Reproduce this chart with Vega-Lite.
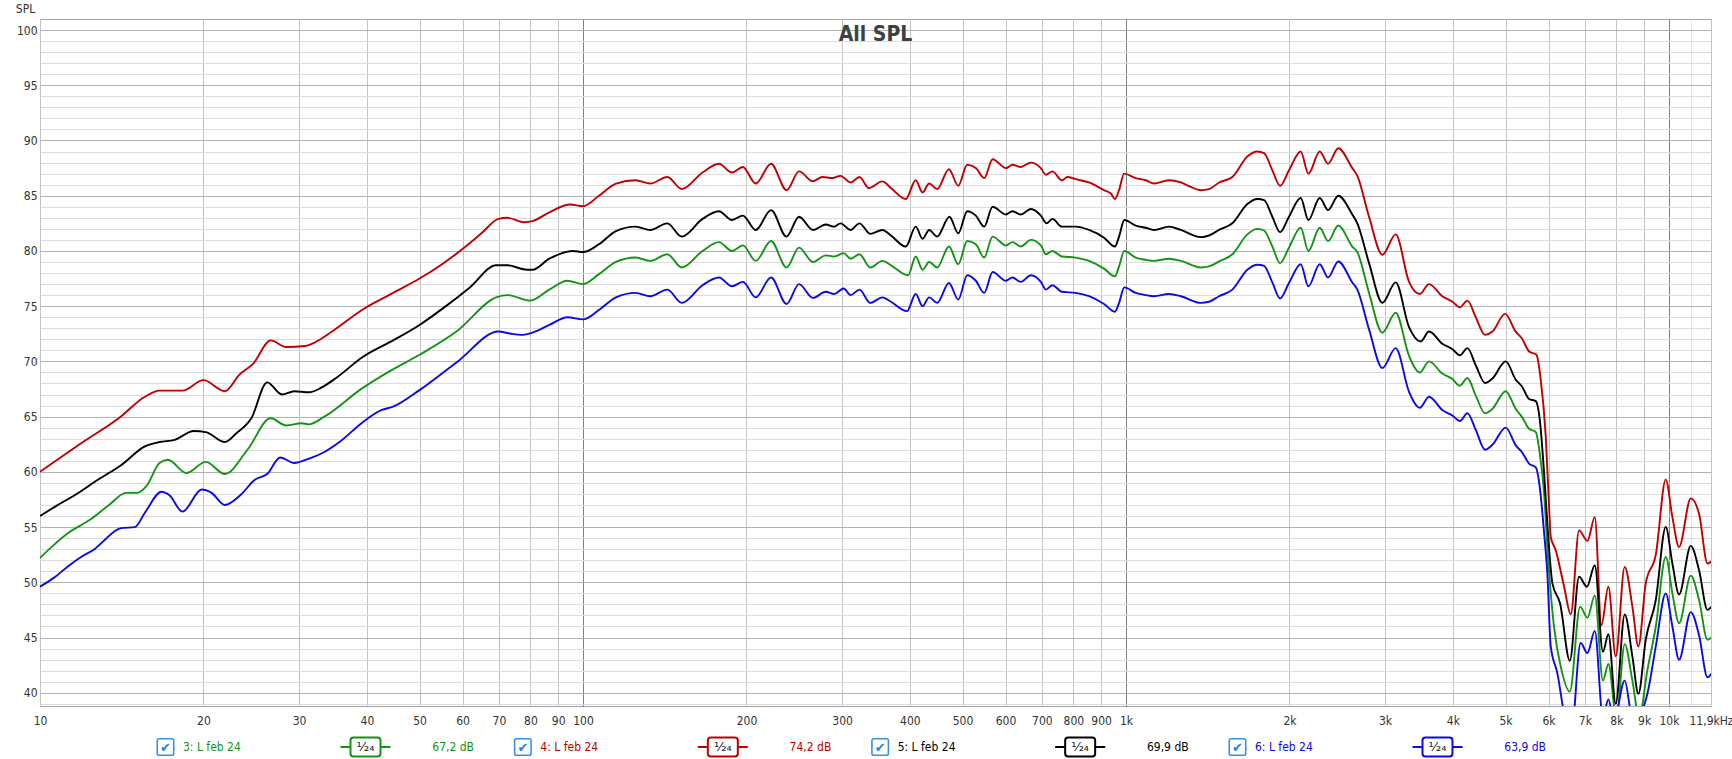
{
  "$schema": "https://vega.github.io/schema/vega-lite/v6.json",
  "background": "white",
  "padding": {"left": 14, "top": 1, "right": 4, "bottom": 2},
  "spacing": 6,
  "config": {
    "view": {"stroke": "#a4a4a4", "strokeWidth": 1},
    "font": "Liberation Sans Narrow, DejaVu Sans Condensed, sans-serif"
  },
  "datasets": {
    "curves": [
      {"series":"3: L feb 24","freq":10,"spl":52.2},{"series":"3: L feb 24","freq":10.4,"spl":53.0},{"series":"3: L feb 24","freq":11.3,"spl":54.5},{"series":"3: L feb 24","freq":12.4,"spl":55.7},{"series":"3: L feb 24","freq":13.4,"spl":57.0},{"series":"3: L feb 24","freq":14.4,"spl":58.1},{"series":"3: L feb 24","freq":15.1,"spl":58.1},{"series":"3: L feb 24","freq":15.7,"spl":58.7},{"series":"3: L feb 24","freq":16.6,"spl":60.8},{"series":"3: L feb 24","freq":17.2,"spl":61.1},{"series":"3: L feb 24","freq":18.6,"spl":59.9},{"series":"3: L feb 24","freq":20.2,"spl":60.9},{"series":"3: L feb 24","freq":21.9,"spl":59.8},{"series":"3: L feb 24","freq":24.1,"spl":62.0},{"series":"3: L feb 24","freq":26.6,"spl":64.85},{"series":"3: L feb 24","freq":28.4,"spl":64.2},{"series":"3: L feb 24","freq":30.3,"spl":64.4},{"series":"3: L feb 24","freq":31.3,"spl":64.3},{"series":"3: L feb 24","freq":33.4,"spl":65.0},{"series":"3: L feb 24","freq":39.3,"spl":67.6},{"series":"3: L feb 24","freq":44.0,"spl":69.1},{"series":"3: L feb 24","freq":50,"spl":70.6},{"series":"3: L feb 24","freq":58.8,"spl":72.8},{"series":"3: L feb 24","freq":69.2,"spl":75.8},{"series":"3: L feb 24","freq":72.6,"spl":76.0},{"series":"3: L feb 24","freq":80,"spl":75.5},{"series":"3: L feb 24","freq":86.7,"spl":76.5},{"series":"3: L feb 24","freq":93.6,"spl":77.3},{"series":"3: L feb 24","freq":100,"spl":77.0},{"series":"3: L feb 24","freq":107,"spl":77.9},{"series":"3: L feb 24","freq":115,"spl":79.0},{"series":"3: L feb 24","freq":125,"spl":79.4},{"series":"3: L feb 24","freq":133,"spl":79.1},{"series":"3: L feb 24","freq":143,"spl":79.7},{"series":"3: L feb 24","freq":152,"spl":78.5},{"series":"3: L feb 24","freq":166,"spl":80.0},{"series":"3: L feb 24","freq":178,"spl":80.8},{"series":"3: L feb 24","freq":188,"spl":80.0},{"series":"3: L feb 24","freq":197,"spl":80.5},{"series":"3: L feb 24","freq":208,"spl":79.1},{"series":"3: L feb 24","freq":222,"spl":80.9},{"series":"3: L feb 24","freq":237,"spl":78.5},{"series":"3: L feb 24","freq":250,"spl":80.3},{"series":"3: L feb 24","freq":265,"spl":79.0},{"series":"3: L feb 24","freq":280,"spl":79.6},{"series":"3: L feb 24","freq":290,"spl":79.5},{"series":"3: L feb 24","freq":302,"spl":79.8},{"series":"3: L feb 24","freq":311,"spl":79.3},{"series":"3: L feb 24","freq":323,"spl":79.7},{"series":"3: L feb 24","freq":338,"spl":78.5},{"series":"3: L feb 24","freq":356,"spl":79.1},{"series":"3: L feb 24","freq":369,"spl":78.7},{"series":"3: L feb 24","freq":397,"spl":77.8},{"series":"3: L feb 24","freq":410,"spl":79.5},{"series":"3: L feb 24","freq":422,"spl":78.3},{"series":"3: L feb 24","freq":434,"spl":79.0},{"series":"3: L feb 24","freq":449,"spl":78.5},{"series":"3: L feb 24","freq":472,"spl":80.4},{"series":"3: L feb 24","freq":491,"spl":78.8},{"series":"3: L feb 24","freq":510,"spl":80.9},{"series":"3: L feb 24","freq":529,"spl":80.6},{"series":"3: L feb 24","freq":548,"spl":79.4},{"series":"3: L feb 24","freq":568,"spl":81.3},{"series":"3: L feb 24","freq":601,"spl":80.5},{"series":"3: L feb 24","freq":618,"spl":80.8},{"series":"3: L feb 24","freq":640,"spl":80.4},{"series":"3: L feb 24","freq":668,"spl":81.0},{"series":"3: L feb 24","freq":697,"spl":80.5},{"series":"3: L feb 24","freq":712,"spl":79.7},{"series":"3: L feb 24","freq":732,"spl":80.0},{"series":"3: L feb 24","freq":762,"spl":79.5},{"series":"3: L feb 24","freq":808,"spl":79.4},{"series":"3: L feb 24","freq":855,"spl":79.1},{"series":"3: L feb 24","freq":911,"spl":78.4},{"series":"3: L feb 24","freq":954,"spl":77.7},{"series":"3: L feb 24","freq":971,"spl":78.6},{"series":"3: L feb 24","freq":993,"spl":80.0},{"series":"3: L feb 24","freq":1042,"spl":79.4},{"series":"3: L feb 24","freq":1087,"spl":79.2},{"series":"3: L feb 24","freq":1126,"spl":79.1},{"series":"3: L feb 24","freq":1200,"spl":79.3},{"series":"3: L feb 24","freq":1262,"spl":79.1},{"series":"3: L feb 24","freq":1373,"spl":78.5},{"series":"3: L feb 24","freq":1422,"spl":78.6},{"series":"3: L feb 24","freq":1484,"spl":79.05},{"series":"3: L feb 24","freq":1570,"spl":79.7},{"series":"3: L feb 24","freq":1673,"spl":81.5},{"series":"3: L feb 24","freq":1746,"spl":82.0},{"series":"3: L feb 24","freq":1796,"spl":81.85},{"series":"3: L feb 24","freq":1860,"spl":80.4},{"series":"3: L feb 24","freq":1922,"spl":78.9},{"series":"3: L feb 24","freq":1996,"spl":80.3},{"series":"3: L feb 24","freq":2098,"spl":82.1},{"series":"3: L feb 24","freq":2167,"spl":80.0},{"series":"3: L feb 24","freq":2274,"spl":82.1},{"series":"3: L feb 24","freq":2356,"spl":80.9},{"series":"3: L feb 24","freq":2460,"spl":82.3},{"series":"3: L feb 24","freq":2611,"spl":80.4},{"series":"3: L feb 24","freq":2667,"spl":79.9},{"series":"3: L feb 24","freq":2803,"spl":76.2},{"series":"3: L feb 24","freq":2966,"spl":72.6},{"series":"3: L feb 24","freq":3138,"spl":74.4},{"series":"3: L feb 24","freq":3321,"spl":70.5},{"series":"3: L feb 24","freq":3476,"spl":69.0},{"series":"3: L feb 24","freq":3615,"spl":70.0},{"series":"3: L feb 24","freq":3824,"spl":68.9},{"series":"3: L feb 24","freq":3992,"spl":68.4},{"series":"3: L feb 24","freq":4119,"spl":67.8},{"series":"3: L feb 24","freq":4254,"spl":68.5},{"series":"3: L feb 24","freq":4407,"spl":66.9},{"series":"3: L feb 24","freq":4584,"spl":65.3},{"series":"3: L feb 24","freq":4729,"spl":65.7},{"series":"3: L feb 24","freq":5004,"spl":67.3},{"series":"3: L feb 24","freq":5221,"spl":65.7},{"series":"3: L feb 24","freq":5357,"spl":65.0},{"series":"3: L feb 24","freq":5525,"spl":63.9},{"series":"3: L feb 24","freq":5684,"spl":63.6},{"series":"3: L feb 24","freq":5782,"spl":61.65},{"series":"3: L feb 24","freq":5890,"spl":58.0},{"series":"3: L feb 24","freq":5970,"spl":53.2},{"series":"3: L feb 24","freq":6140,"spl":46.0},{"series":"3: L feb 24","freq":6340,"spl":42.05},{"series":"3: L feb 24","freq":6567,"spl":40.1},{"series":"3: L feb 24","freq":6860,"spl":47.8},{"series":"3: L feb 24","freq":7075,"spl":46.8},{"series":"3: L feb 24","freq":7301,"spl":48.8},{"series":"3: L feb 24","freq":7556,"spl":41.1},{"series":"3: L feb 24","freq":7734,"spl":42.6},{"series":"3: L feb 24","freq":8000,"spl":37.8},{"series":"3: L feb 24","freq":8288,"spl":44.4},{"series":"3: L feb 24","freq":8562,"spl":41.1},{"series":"3: L feb 24","freq":8810,"spl":37.8},{"series":"3: L feb 24","freq":9125,"spl":42.05},{"series":"3: L feb 24","freq":9456,"spl":46.0},{"series":"3: L feb 24","freq":9863,"spl":52.3},{"series":"3: L feb 24","freq":10145,"spl":49.0},{"series":"3: L feb 24","freq":10437,"spl":46.3},{"series":"3: L feb 24","freq":10968,"spl":50.6},{"series":"3: L feb 24","freq":11360,"spl":48.4},{"series":"3: L feb 24","freq":11773,"spl":44.8},{"series":"3: L feb 24","freq":11975,"spl":45.0},

      {"series":"4: L feb 24","freq":10,"spl":60.0},{"series":"4: L feb 24","freq":12,"spl":62.7},{"series":"4: L feb 24","freq":14,"spl":64.9},{"series":"4: L feb 24","freq":15.6,"spl":66.8},{"series":"4: L feb 24","freq":16.6,"spl":67.35},{"series":"4: L feb 24","freq":18.3,"spl":67.35},{"series":"4: L feb 24","freq":20.0,"spl":68.3},{"series":"4: L feb 24","freq":21.9,"spl":67.3},{"series":"4: L feb 24","freq":23.3,"spl":68.8},{"series":"4: L feb 24","freq":24.7,"spl":69.8},{"series":"4: L feb 24","freq":26.6,"spl":71.9},{"series":"4: L feb 24","freq":28.4,"spl":71.3},{"series":"4: L feb 24","freq":30.8,"spl":71.4},{"series":"4: L feb 24","freq":32.3,"spl":71.8},{"series":"4: L feb 24","freq":34.5,"spl":72.7},{"series":"4: L feb 24","freq":39.3,"spl":74.7},{"series":"4: L feb 24","freq":44.7,"spl":76.2},{"series":"4: L feb 24","freq":50,"spl":77.5},{"series":"4: L feb 24","freq":55,"spl":78.8},{"series":"4: L feb 24","freq":60.8,"spl":80.4},{"series":"4: L feb 24","freq":65,"spl":81.6},{"series":"4: L feb 24","freq":69.9,"spl":82.9},{"series":"4: L feb 24","freq":72.6,"spl":83.0},{"series":"4: L feb 24","freq":78.1,"spl":82.6},{"series":"4: L feb 24","freq":80.7,"spl":82.7},{"series":"4: L feb 24","freq":86.7,"spl":83.5},{"series":"4: L feb 24","freq":94.8,"spl":84.2},{"series":"4: L feb 24","freq":100,"spl":84.05},{"series":"4: L feb 24","freq":107,"spl":85.0},{"series":"4: L feb 24","freq":115,"spl":86.1},{"series":"4: L feb 24","freq":125,"spl":86.4},{"series":"4: L feb 24","freq":133,"spl":86.1},{"series":"4: L feb 24","freq":143,"spl":86.7},{"series":"4: L feb 24","freq":152,"spl":85.6},{"series":"4: L feb 24","freq":166,"spl":87.1},{"series":"4: L feb 24","freq":178,"spl":87.9},{"series":"4: L feb 24","freq":188,"spl":87.1},{"series":"4: L feb 24","freq":197,"spl":87.6},{"series":"4: L feb 24","freq":208,"spl":86.1},{"series":"4: L feb 24","freq":222,"spl":87.9},{"series":"4: L feb 24","freq":237,"spl":85.5},{"series":"4: L feb 24","freq":250,"spl":87.2},{"series":"4: L feb 24","freq":265,"spl":86.3},{"series":"4: L feb 24","freq":276,"spl":86.7},{"series":"4: L feb 24","freq":288,"spl":86.6},{"series":"4: L feb 24","freq":298,"spl":86.8},{"series":"4: L feb 24","freq":311,"spl":86.2},{"series":"4: L feb 24","freq":323,"spl":86.7},{"series":"4: L feb 24","freq":336,"spl":85.7},{"series":"4: L feb 24","freq":356,"spl":86.3},{"series":"4: L feb 24","freq":369,"spl":85.7},{"series":"4: L feb 24","freq":393,"spl":84.7},{"series":"4: L feb 24","freq":410,"spl":86.4},{"series":"4: L feb 24","freq":422,"spl":85.3},{"series":"4: L feb 24","freq":434,"spl":86.1},{"series":"4: L feb 24","freq":449,"spl":85.6},{"series":"4: L feb 24","freq":472,"spl":87.4},{"series":"4: L feb 24","freq":491,"spl":85.9},{"series":"4: L feb 24","freq":510,"spl":87.8},{"series":"4: L feb 24","freq":529,"spl":87.5},{"series":"4: L feb 24","freq":548,"spl":86.6},{"series":"4: L feb 24","freq":568,"spl":88.3},{"series":"4: L feb 24","freq":601,"spl":87.5},{"series":"4: L feb 24","freq":618,"spl":87.8},{"series":"4: L feb 24","freq":640,"spl":87.6},{"series":"4: L feb 24","freq":668,"spl":88.0},{"series":"4: L feb 24","freq":697,"spl":87.5},{"series":"4: L feb 24","freq":712,"spl":86.9},{"series":"4: L feb 24","freq":732,"spl":87.2},{"series":"4: L feb 24","freq":762,"spl":86.4},{"series":"4: L feb 24","freq":780,"spl":86.7},{"series":"4: L feb 24","freq":808,"spl":86.5},{"series":"4: L feb 24","freq":855,"spl":86.2},{"series":"4: L feb 24","freq":911,"spl":85.5},{"series":"4: L feb 24","freq":938,"spl":85.2},{"series":"4: L feb 24","freq":954,"spl":84.7},{"series":"4: L feb 24","freq":971,"spl":85.5},{"series":"4: L feb 24","freq":992,"spl":87.0},{"series":"4: L feb 24","freq":1042,"spl":86.6},{"series":"4: L feb 24","freq":1087,"spl":86.4},{"series":"4: L feb 24","freq":1126,"spl":86.1},{"series":"4: L feb 24","freq":1200,"spl":86.4},{"series":"4: L feb 24","freq":1262,"spl":86.2},{"series":"4: L feb 24","freq":1316,"spl":85.8},{"series":"4: L feb 24","freq":1373,"spl":85.5},{"series":"4: L feb 24","freq":1422,"spl":85.6},{"series":"4: L feb 24","freq":1484,"spl":86.2},{"series":"4: L feb 24","freq":1570,"spl":86.7},{"series":"4: L feb 24","freq":1673,"spl":88.55},{"series":"4: L feb 24","freq":1746,"spl":89.0},{"series":"4: L feb 24","freq":1796,"spl":88.85},{"series":"4: L feb 24","freq":1860,"spl":87.3},{"series":"4: L feb 24","freq":1922,"spl":85.9},{"series":"4: L feb 24","freq":1996,"spl":87.3},{"series":"4: L feb 24","freq":2098,"spl":89.0},{"series":"4: L feb 24","freq":2167,"spl":87.0},{"series":"4: L feb 24","freq":2274,"spl":89.0},{"series":"4: L feb 24","freq":2356,"spl":87.9},{"series":"4: L feb 24","freq":2460,"spl":89.3},{"series":"4: L feb 24","freq":2611,"spl":87.5},{"series":"4: L feb 24","freq":2667,"spl":86.8},{"series":"4: L feb 24","freq":2803,"spl":83.1},{"series":"4: L feb 24","freq":2966,"spl":79.65},{"series":"4: L feb 24","freq":3138,"spl":81.5},{"series":"4: L feb 24","freq":3321,"spl":77.2},{"series":"4: L feb 24","freq":3476,"spl":76.1},{"series":"4: L feb 24","freq":3615,"spl":77.0},{"series":"4: L feb 24","freq":3824,"spl":75.9},{"series":"4: L feb 24","freq":3992,"spl":75.4},{"series":"4: L feb 24","freq":4119,"spl":74.9},{"series":"4: L feb 24","freq":4254,"spl":75.5},{"series":"4: L feb 24","freq":4407,"spl":74.0},{"series":"4: L feb 24","freq":4584,"spl":72.4},{"series":"4: L feb 24","freq":4729,"spl":72.7},{"series":"4: L feb 24","freq":4991,"spl":74.3},{"series":"4: L feb 24","freq":5221,"spl":72.7},{"series":"4: L feb 24","freq":5357,"spl":72.1},{"series":"4: L feb 24","freq":5525,"spl":70.9},{"series":"4: L feb 24","freq":5700,"spl":70.6},{"series":"4: L feb 24","freq":5806,"spl":68.3},{"series":"4: L feb 24","freq":5930,"spl":63.2},{"series":"4: L feb 24","freq":6015,"spl":56.8},{"series":"4: L feb 24","freq":6057,"spl":54.1},{"series":"4: L feb 24","freq":6186,"spl":52.9},{"series":"4: L feb 24","freq":6410,"spl":49.6},{"series":"4: L feb 24","freq":6594,"spl":47.1},{"series":"4: L feb 24","freq":6830,"spl":54.7},{"series":"4: L feb 24","freq":7075,"spl":53.75},{"series":"4: L feb 24","freq":7301,"spl":55.9},{"series":"4: L feb 24","freq":7508,"spl":46.1},{"series":"4: L feb 24","freq":7734,"spl":49.6},{"series":"4: L feb 24","freq":7978,"spl":43.3},{"series":"4: L feb 24","freq":8288,"spl":51.4},{"series":"4: L feb 24","freq":8562,"spl":47.8},{"series":"4: L feb 24","freq":8783,"spl":44.2},{"series":"4: L feb 24","freq":9061,"spl":49.9},{"series":"4: L feb 24","freq":9456,"spl":52.5},{"series":"4: L feb 24","freq":9863,"spl":59.3},{"series":"4: L feb 24","freq":10145,"spl":55.9},{"series":"4: L feb 24","freq":10437,"spl":53.2},{"series":"4: L feb 24","freq":10968,"spl":57.6},{"series":"4: L feb 24","freq":11360,"spl":56.2},{"series":"4: L feb 24","freq":11773,"spl":51.7},{"series":"4: L feb 24","freq":11975,"spl":51.9},

      {"series":"5: L feb 24","freq":10,"spl":56.0},{"series":"5: L feb 24","freq":10.7,"spl":56.9},{"series":"5: L feb 24","freq":11.6,"spl":57.9},{"series":"5: L feb 24","freq":12.8,"spl":59.3},{"series":"5: L feb 24","freq":14.1,"spl":60.6},{"series":"5: L feb 24","freq":15.6,"spl":62.3},{"series":"5: L feb 24","freq":16.6,"spl":62.7},{"series":"5: L feb 24","freq":17.7,"spl":62.9},{"series":"5: L feb 24","freq":19.2,"spl":63.7},{"series":"5: L feb 24","freq":20.2,"spl":63.6},{"series":"5: L feb 24","freq":21.9,"spl":62.7},{"series":"5: L feb 24","freq":23.0,"spl":63.5},{"series":"5: L feb 24","freq":24.5,"spl":64.85},{"series":"5: L feb 24","freq":26.2,"spl":68.1},{"series":"5: L feb 24","freq":27.9,"spl":67.0},{"series":"5: L feb 24","freq":29.4,"spl":67.3},{"series":"5: L feb 24","freq":31.3,"spl":67.2},{"series":"5: L feb 24","freq":32.9,"spl":67.6},{"series":"5: L feb 24","freq":35.1,"spl":68.5},{"series":"5: L feb 24","freq":39.3,"spl":70.4},{"series":"5: L feb 24","freq":44.7,"spl":71.9},{"series":"5: L feb 24","freq":50.0,"spl":73.3},{"series":"5: L feb 24","freq":55.2,"spl":74.8},{"series":"5: L feb 24","freq":61.9,"spl":76.7},{"series":"5: L feb 24","freq":69.2,"spl":78.7},{"series":"5: L feb 24","freq":72.6,"spl":78.7},{"series":"5: L feb 24","freq":78.8,"spl":78.3},{"series":"5: L feb 24","freq":80.7,"spl":78.3},{"series":"5: L feb 24","freq":86.7,"spl":79.3},{"series":"5: L feb 24","freq":95.8,"spl":80.0},{"series":"5: L feb 24","freq":100,"spl":79.9},{"series":"5: L feb 24","freq":107,"spl":80.6},{"series":"5: L feb 24","freq":115,"spl":81.8},{"series":"5: L feb 24","freq":125,"spl":82.2},{"series":"5: L feb 24","freq":133,"spl":81.9},{"series":"5: L feb 24","freq":143,"spl":82.5},{"series":"5: L feb 24","freq":152,"spl":81.3},{"series":"5: L feb 24","freq":166,"spl":82.9},{"series":"5: L feb 24","freq":178,"spl":83.6},{"series":"5: L feb 24","freq":188,"spl":82.8},{"series":"5: L feb 24","freq":197,"spl":83.2},{"series":"5: L feb 24","freq":208,"spl":81.9},{"series":"5: L feb 24","freq":222,"spl":83.7},{"series":"5: L feb 24","freq":237,"spl":81.3},{"series":"5: L feb 24","freq":250,"spl":83.1},{"series":"5: L feb 24","freq":265,"spl":81.9},{"series":"5: L feb 24","freq":280,"spl":82.4},{"series":"5: L feb 24","freq":290,"spl":82.2},{"series":"5: L feb 24","freq":298,"spl":82.5},{"series":"5: L feb 24","freq":311,"spl":81.9},{"series":"5: L feb 24","freq":323,"spl":82.5},{"series":"5: L feb 24","freq":338,"spl":81.55},{"series":"5: L feb 24","freq":356,"spl":81.9},{"series":"5: L feb 24","freq":369,"spl":81.4},{"series":"5: L feb 24","freq":393,"spl":80.4},{"series":"5: L feb 24","freq":410,"spl":82.2},{"series":"5: L feb 24","freq":422,"spl":81.1},{"series":"5: L feb 24","freq":434,"spl":81.9},{"series":"5: L feb 24","freq":449,"spl":81.3},{"series":"5: L feb 24","freq":473,"spl":83.1},{"series":"5: L feb 24","freq":491,"spl":81.6},{"series":"5: L feb 24","freq":510,"spl":83.6},{"series":"5: L feb 24","freq":529,"spl":83.2},{"series":"5: L feb 24","freq":548,"spl":82.2},{"series":"5: L feb 24","freq":568,"spl":84.0},{"series":"5: L feb 24","freq":601,"spl":83.3},{"series":"5: L feb 24","freq":618,"spl":83.6},{"series":"5: L feb 24","freq":640,"spl":83.3},{"series":"5: L feb 24","freq":668,"spl":83.8},{"series":"5: L feb 24","freq":697,"spl":83.2},{"series":"5: L feb 24","freq":714,"spl":82.5},{"series":"5: L feb 24","freq":732,"spl":82.9},{"series":"5: L feb 24","freq":762,"spl":82.2},{"series":"5: L feb 24","freq":808,"spl":82.2},{"series":"5: L feb 24","freq":855,"spl":81.9},{"series":"5: L feb 24","freq":911,"spl":81.2},{"series":"5: L feb 24","freq":954,"spl":80.4},{"series":"5: L feb 24","freq":971,"spl":81.3},{"series":"5: L feb 24","freq":993,"spl":82.8},{"series":"5: L feb 24","freq":1042,"spl":82.3},{"series":"5: L feb 24","freq":1087,"spl":82.1},{"series":"5: L feb 24","freq":1126,"spl":81.9},{"series":"5: L feb 24","freq":1200,"spl":82.2},{"series":"5: L feb 24","freq":1262,"spl":81.9},{"series":"5: L feb 24","freq":1373,"spl":81.25},{"series":"5: L feb 24","freq":1422,"spl":81.4},{"series":"5: L feb 24","freq":1484,"spl":81.9},{"series":"5: L feb 24","freq":1570,"spl":82.5},{"series":"5: L feb 24","freq":1673,"spl":84.25},{"series":"5: L feb 24","freq":1746,"spl":84.7},{"series":"5: L feb 24","freq":1796,"spl":84.6},{"series":"5: L feb 24","freq":1860,"spl":83.1},{"series":"5: L feb 24","freq":1922,"spl":81.7},{"series":"5: L feb 24","freq":1996,"spl":83.1},{"series":"5: L feb 24","freq":2098,"spl":84.8},{"series":"5: L feb 24","freq":2167,"spl":82.8},{"series":"5: L feb 24","freq":2274,"spl":84.8},{"series":"5: L feb 24","freq":2356,"spl":83.7},{"series":"5: L feb 24","freq":2460,"spl":85.0},{"series":"5: L feb 24","freq":2611,"spl":83.3},{"series":"5: L feb 24","freq":2667,"spl":82.5},{"series":"5: L feb 24","freq":2803,"spl":78.9},{"series":"5: L feb 24","freq":2966,"spl":75.3},{"series":"5: L feb 24","freq":3138,"spl":77.15},{"series":"5: L feb 24","freq":3321,"spl":73.1},{"series":"5: L feb 24","freq":3489,"spl":71.8},{"series":"5: L feb 24","freq":3615,"spl":72.7},{"series":"5: L feb 24","freq":3824,"spl":71.6},{"series":"5: L feb 24","freq":3992,"spl":71.1},{"series":"5: L feb 24","freq":4119,"spl":70.55},{"series":"5: L feb 24","freq":4254,"spl":71.2},{"series":"5: L feb 24","freq":4407,"spl":69.65},{"series":"5: L feb 24","freq":4584,"spl":68.05},{"series":"5: L feb 24","freq":4729,"spl":68.45},{"series":"5: L feb 24","freq":5004,"spl":70.0},{"series":"5: L feb 24","freq":5221,"spl":68.35},{"series":"5: L feb 24","freq":5357,"spl":67.75},{"series":"5: L feb 24","freq":5525,"spl":66.6},{"series":"5: L feb 24","freq":5684,"spl":66.4},{"series":"5: L feb 24","freq":5782,"spl":64.7},{"series":"5: L feb 24","freq":5890,"spl":59.8},{"series":"5: L feb 24","freq":5970,"spl":55.3},{"series":"5: L feb 24","freq":6100,"spl":49.9},{"series":"5: L feb 24","freq":6300,"spl":48.1},{"series":"5: L feb 24","freq":6567,"spl":42.9},{"series":"5: L feb 24","freq":6830,"spl":50.5},{"series":"5: L feb 24","freq":7060,"spl":49.6},{"series":"5: L feb 24","freq":7301,"spl":51.55},{"series":"5: L feb 24","freq":7556,"spl":43.7},{"series":"5: L feb 24","freq":7734,"spl":45.3},{"series":"5: L feb 24","freq":7978,"spl":39.0},{"series":"5: L feb 24","freq":8288,"spl":47.1},{"series":"5: L feb 24","freq":8562,"spl":43.3},{"series":"5: L feb 24","freq":8783,"spl":39.9},{"series":"5: L feb 24","freq":9061,"spl":44.8},{"series":"5: L feb 24","freq":9456,"spl":48.4},{"series":"5: L feb 24","freq":9863,"spl":55.0},{"series":"5: L feb 24","freq":10145,"spl":51.7},{"series":"5: L feb 24","freq":10437,"spl":48.9},{"series":"5: L feb 24","freq":10968,"spl":53.3},{"series":"5: L feb 24","freq":11360,"spl":51.1},{"series":"5: L feb 24","freq":11773,"spl":47.5},{"series":"5: L feb 24","freq":11975,"spl":47.8},

      {"series":"6: L feb 24","freq":10,"spl":49.6},{"series":"6: L feb 24","freq":10.6,"spl":50.4},{"series":"6: L feb 24","freq":11.3,"spl":51.5},{"series":"6: L feb 24","freq":12.0,"spl":52.4},{"series":"6: L feb 24","freq":12.6,"spl":53.0},{"series":"6: L feb 24","freq":13.2,"spl":53.9},{"series":"6: L feb 24","freq":13.7,"spl":54.6},{"series":"6: L feb 24","freq":14.1,"spl":54.9},{"series":"6: L feb 24","freq":14.96,"spl":55.0},{"series":"6: L feb 24","freq":15.6,"spl":56.3},{"series":"6: L feb 24","freq":16.75,"spl":58.2},{"series":"6: L feb 24","freq":17.3,"spl":57.9},{"series":"6: L feb 24","freq":18.3,"spl":56.4},{"series":"6: L feb 24","freq":19.85,"spl":58.4},{"series":"6: L feb 24","freq":20.7,"spl":58.1},{"series":"6: L feb 24","freq":21.9,"spl":57.0},{"series":"6: L feb 24","freq":23.4,"spl":57.9},{"series":"6: L feb 24","freq":24.9,"spl":59.3},{"series":"6: L feb 24","freq":26.2,"spl":59.8},{"series":"6: L feb 24","freq":27.7,"spl":61.3},{"series":"6: L feb 24","freq":29.4,"spl":60.8},{"series":"6: L feb 24","freq":31.3,"spl":61.2},{"series":"6: L feb 24","freq":33.4,"spl":61.8},{"series":"6: L feb 24","freq":35.6,"spl":62.7},{"series":"6: L feb 24","freq":39.3,"spl":64.5},{"series":"6: L feb 24","freq":42.6,"spl":65.6},{"series":"6: L feb 24","freq":44.7,"spl":65.9},{"series":"6: L feb 24","freq":50.0,"spl":67.4},{"series":"6: L feb 24","freq":58.8,"spl":70.0},{"series":"6: L feb 24","freq":69.9,"spl":72.7},{"series":"6: L feb 24","freq":73.7,"spl":72.5},{"series":"6: L feb 24","freq":77.5,"spl":72.4},{"series":"6: L feb 24","freq":80.7,"spl":72.6},{"series":"6: L feb 24","freq":86.7,"spl":73.3},{"series":"6: L feb 24","freq":93.6,"spl":74.0},{"series":"6: L feb 24","freq":100,"spl":73.8},{"series":"6: L feb 24","freq":107,"spl":74.65},{"series":"6: L feb 24","freq":115,"spl":75.8},{"series":"6: L feb 24","freq":125,"spl":76.2},{"series":"6: L feb 24","freq":133,"spl":75.9},{"series":"6: L feb 24","freq":143,"spl":76.5},{"series":"6: L feb 24","freq":152,"spl":75.3},{"series":"6: L feb 24","freq":166,"spl":76.9},{"series":"6: L feb 24","freq":178,"spl":77.6},{"series":"6: L feb 24","freq":188,"spl":76.8},{"series":"6: L feb 24","freq":197,"spl":77.2},{"series":"6: L feb 24","freq":208,"spl":75.8},{"series":"6: L feb 24","freq":222,"spl":77.6},{"series":"6: L feb 24","freq":237,"spl":75.2},{"series":"6: L feb 24","freq":250,"spl":77.0},{"series":"6: L feb 24","freq":265,"spl":75.75},{"series":"6: L feb 24","freq":280,"spl":76.3},{"series":"6: L feb 24","freq":290,"spl":76.1},{"series":"6: L feb 24","freq":302,"spl":76.6},{"series":"6: L feb 24","freq":311,"spl":76.0},{"series":"6: L feb 24","freq":323,"spl":76.5},{"series":"6: L feb 24","freq":338,"spl":75.3},{"series":"6: L feb 24","freq":356,"spl":75.8},{"series":"6: L feb 24","freq":369,"spl":75.4},{"series":"6: L feb 24","freq":395,"spl":74.55},{"series":"6: L feb 24","freq":410,"spl":76.1},{"series":"6: L feb 24","freq":422,"spl":75.0},{"series":"6: L feb 24","freq":434,"spl":75.8},{"series":"6: L feb 24","freq":449,"spl":75.3},{"series":"6: L feb 24","freq":472,"spl":77.1},{"series":"6: L feb 24","freq":491,"spl":75.6},{"series":"6: L feb 24","freq":510,"spl":77.8},{"series":"6: L feb 24","freq":529,"spl":77.3},{"series":"6: L feb 24","freq":548,"spl":76.2},{"series":"6: L feb 24","freq":568,"spl":78.1},{"series":"6: L feb 24","freq":601,"spl":77.3},{"series":"6: L feb 24","freq":618,"spl":77.6},{"series":"6: L feb 24","freq":640,"spl":77.2},{"series":"6: L feb 24","freq":668,"spl":77.8},{"series":"6: L feb 24","freq":697,"spl":77.2},{"series":"6: L feb 24","freq":712,"spl":76.5},{"series":"6: L feb 24","freq":732,"spl":76.9},{"series":"6: L feb 24","freq":762,"spl":76.3},{"series":"6: L feb 24","freq":808,"spl":76.2},{"series":"6: L feb 24","freq":855,"spl":75.9},{"series":"6: L feb 24","freq":911,"spl":75.2},{"series":"6: L feb 24","freq":954,"spl":74.5},{"series":"6: L feb 24","freq":971,"spl":75.3},{"series":"6: L feb 24","freq":993,"spl":76.7},{"series":"6: L feb 24","freq":1042,"spl":76.2},{"series":"6: L feb 24","freq":1087,"spl":76.0},{"series":"6: L feb 24","freq":1126,"spl":75.9},{"series":"6: L feb 24","freq":1200,"spl":76.1},{"series":"6: L feb 24","freq":1262,"spl":75.9},{"series":"6: L feb 24","freq":1373,"spl":75.3},{"series":"6: L feb 24","freq":1422,"spl":75.4},{"series":"6: L feb 24","freq":1484,"spl":75.9},{"series":"6: L feb 24","freq":1570,"spl":76.5},{"series":"6: L feb 24","freq":1673,"spl":78.3},{"series":"6: L feb 24","freq":1746,"spl":78.75},{"series":"6: L feb 24","freq":1796,"spl":78.65},{"series":"6: L feb 24","freq":1860,"spl":77.15},{"series":"6: L feb 24","freq":1922,"spl":75.7},{"series":"6: L feb 24","freq":1996,"spl":77.1},{"series":"6: L feb 24","freq":2098,"spl":78.8},{"series":"6: L feb 24","freq":2167,"spl":76.8},{"series":"6: L feb 24","freq":2274,"spl":78.8},{"series":"6: L feb 24","freq":2356,"spl":77.6},{"series":"6: L feb 24","freq":2460,"spl":79.05},{"series":"6: L feb 24","freq":2611,"spl":77.15},{"series":"6: L feb 24","freq":2667,"spl":76.5},{"series":"6: L feb 24","freq":2803,"spl":72.9},{"series":"6: L feb 24","freq":2966,"spl":69.4},{"series":"6: L feb 24","freq":3138,"spl":71.2},{"series":"6: L feb 24","freq":3321,"spl":67.25},{"series":"6: L feb 24","freq":3476,"spl":65.8},{"series":"6: L feb 24","freq":3615,"spl":66.8},{"series":"6: L feb 24","freq":3824,"spl":65.6},{"series":"6: L feb 24","freq":3992,"spl":65.1},{"series":"6: L feb 24","freq":4119,"spl":64.6},{"series":"6: L feb 24","freq":4254,"spl":65.3},{"series":"6: L feb 24","freq":4407,"spl":63.8},{"series":"6: L feb 24","freq":4584,"spl":62.0},{"series":"6: L feb 24","freq":4729,"spl":62.45},{"series":"6: L feb 24","freq":5004,"spl":64.0},{"series":"6: L feb 24","freq":5221,"spl":62.4},{"series":"6: L feb 24","freq":5357,"spl":61.8},{"series":"6: L feb 24","freq":5525,"spl":60.75},{"series":"6: L feb 24","freq":5684,"spl":60.4},{"series":"6: L feb 24","freq":5782,"spl":58.6},{"series":"6: L feb 24","freq":5890,"spl":54.4},{"series":"6: L feb 24","freq":5970,"spl":50.8},{"series":"6: L feb 24","freq":6057,"spl":44.2},{"series":"6: L feb 24","freq":6230,"spl":41.75},{"series":"6: L feb 24","freq":6410,"spl":38.1},{"series":"6: L feb 24","freq":6594,"spl":35.7},{"series":"6: L feb 24","freq":6875,"spl":44.5},{"series":"6: L feb 24","freq":7075,"spl":43.6},{"series":"6: L feb 24","freq":7301,"spl":45.6},{"series":"6: L feb 24","freq":7556,"spl":37.8},{"series":"6: L feb 24","freq":7734,"spl":39.4},{"series":"6: L feb 24","freq":7920,"spl":37.5},{"series":"6: L feb 24","freq":8288,"spl":41.1},{"series":"6: L feb 24","freq":8562,"spl":37.8},{"series":"6: L feb 24","freq":8840,"spl":38.1},{"series":"6: L feb 24","freq":9125,"spl":39.9},{"series":"6: L feb 24","freq":9456,"spl":44.2},{"series":"6: L feb 24","freq":9863,"spl":49.0},{"series":"6: L feb 24","freq":10145,"spl":46.0},{"series":"6: L feb 24","freq":10437,"spl":43.0},{"series":"6: L feb 24","freq":10968,"spl":47.3},{"series":"6: L feb 24","freq":11360,"spl":45.2},{"series":"6: L feb 24","freq":11773,"spl":41.4},{"series":"6: L feb 24","freq":11975,"spl":41.75}
    ],
    "legendRows": [
      {"series":"3: L feb 24","level":"67,2 dB"},
      {"series":"4: L feb 24","level":"74,2 dB"},
      {"series":"5: L feb 24","level":"69,9 dB"},
      {"series":"6: L feb 24","level":"63,9 dB"}
    ]
  },
  "vconcat": [
    {
      "width": 1671,
      "height": 687,
      "title": {
        "text": "All SPL",
        "frame": "group",
        "anchor": "middle",
        "baseline": "middle",
        "offset": -54,
        "fontSize": 21,
        "fontWeight": "bold",
        "color": "#404040",
        "font": "Liberation Sans Narrow, DejaVu Sans Condensed, sans-serif"
      },
      "data": {"name": "curves"},
      "mark": {"type": "line", "interpolate": "monotone", "strokeWidth": 1.9, "clip": true},
      "encoding": {
        "x": {
          "field": "freq", "type": "quantitative",
          "scale": {"type": "log", "domain": [10, 11950], "nice": false},
          "axis": {
            "values": [10,20,30,40,50,60,70,80,90,100,200,300,400,500,600,700,800,900,1000,2000,3000,4000,5000,6000,7000,8000,9000,10000,11000,11950],
            "labelExpr": "datum.value == 11950 ? '11,9kHz' : datum.value == 11000 ? '' : datum.value >= 1000 ? (datum.value / 1000) + 'k' : datum.value + ''",
            "grid": true,
            "gridColor": {"condition": [{"test": "datum.value == 100 || datum.value == 1000 || datum.value == 10000", "value": "#808080"}, {"test": "datum.value == 11000", "value": "#e4e4e4"}], "value": "#c2c2c2"},
            "gridWidth": 1,
            "ticks": false,
            "domain": false,
            "labelPadding": 9,
            "labelOverlap": false,
            "labelFlush": false,
            "labelFontSize": 12,
            "labelColor": "#333333",
            "title": null
          }
        },
        "y": {
          "field": "spl", "type": "quantitative",
          "scale": {"domain": [38.8, 101], "nice": false, "zero": false},
          "axis": {
            "values": [39,40,41,42,43,44,45,46,47,48,49,50,51,52,53,54,55,56,57,58,59,60,61,62,63,64,65,66,67,68,69,70,71,72,73,74,75,76,77,78,79,80,81,82,83,84,85,86,87,88,89,90,91,92,93,94,95,96,97,98,99,100],
            "labelExpr": "datum.value % 5 == 0 ? datum.value + '' : ''",
            "grid": true,
            "gridColor": {"condition": {"test": "datum.value % 5 == 0", "value": "#b2b2b2"}, "value": "#dcdcdc"},
            "ticks": false,
            "domain": false,
            "labelPadding": 3,
            "labelFontSize": 12,
            "labelColor": "#333333",
            "title": "SPL",
            "titleAngle": 0,
            "titleX": -15,
            "titleY": -4,
            "titleAlign": "center",
            "titleBaseline": "bottom",
            "titleFontWeight": "normal",
            "titleFontSize": 12,
            "titleColor": "#333333"
          }
        },
        "color": {
          "field": "series", "type": "nominal",
          "scale": {"domain": ["3: L feb 24","4: L feb 24","5: L feb 24","6: L feb 24"], "range": ["#149414","#c00000","#000000","#0a0ae6"]},
          "legend": null
        }
      }
    },
    {
      "width": 1671,
      "height": 20,
      "view": {"stroke": null},
      "data": {"name": "legendRows"},
      "encoding": {
        "x": {
          "field": "series", "type": "nominal",
          "scale": {"type": "point", "padding": 0, "domain": ["3: L feb 24","4: L feb 24","5: L feb 24","6: L feb 24"], "range": [125.5, 1197.5]},
          "axis": null
        }
      },
      "layer": [
        {
          "mark": {"type": "point", "shape": "M-0.75,-1H0.75Q1,-1 1,-0.75V0.75Q1,1 0.75,1H-0.75Q-1,1 -1,0.75V-0.75Q-1,-1 -0.75,-1Z", "size": 272, "filled": true, "fill": "white", "stroke": "#3d8fe6", "strokeWidth": 1.6, "opacity": 1}
        },
        {
          "mark": {"type": "text", "text": "✔", "font": "DejaVu Sans", "fontSize": 13, "color": "#2a7fdc", "align": "center", "baseline": "middle", "dy": 1}
        },
        {
          "mark": {"type": "text", "align": "left", "baseline": "middle", "dx": 17.5, "fontSize": 12},
          "encoding": {
            "text": {"field": "series"},
            "color": {"field": "series", "type": "nominal", "scale": {"domain": ["3: L feb 24","4: L feb 24","5: L feb 24","6: L feb 24"], "range": ["#1a961a","#c00000","#000000","#1414c8"]}, "legend": null}
          }
        },
        {
          "mark": {"type": "point", "shape": "M-1,0H1", "size": 2500, "filled": false, "strokeWidth": 2, "xOffset": 200, "opacity": 1},
          "encoding": {
            "color": {"field": "series", "type": "nominal", "scale": {"domain": ["3: L feb 24","4: L feb 24","5: L feb 24","6: L feb 24"], "range": ["#149414","#c00000","#000000","#0a0ae6"]}, "legend": null}
          }
        },
        {
          "mark": {"type": "point", "shape": "M-0.8,-0.633H0.8Q1,-0.633 1,-0.433V0.433Q1,0.633 0.8,0.633H-0.8Q-1,0.633 -1,0.433V-0.433Q-1,-0.633 -0.8,-0.633Z", "size": 900, "filled": true, "fill": "white", "strokeWidth": 2, "xOffset": 200, "opacity": 1},
          "encoding": {
            "stroke": {"field": "series", "type": "nominal", "scale": {"domain": ["3: L feb 24","4: L feb 24","5: L feb 24","6: L feb 24"], "range": ["#149414","#c00000","#000000","#0a0ae6"]}, "legend": null}
          }
        },
        {
          "mark": {"type": "text", "text": "¹⁄₂₄", "font": "DejaVu Sans", "fontSize": 13, "color": "#222222", "align": "center", "baseline": "middle", "xOffset": 200}
        },
        {
          "mark": {"type": "text", "align": "right", "baseline": "middle", "dx": 308.5, "fontSize": 12},
          "encoding": {
            "text": {"field": "level"},
            "color": {"field": "series", "type": "nominal", "scale": {"domain": ["3: L feb 24","4: L feb 24","5: L feb 24","6: L feb 24"], "range": ["#1a961a","#c00000","#000000","#1414c8"]}, "legend": null}
          }
        }
      ]
    }
  ]
}
